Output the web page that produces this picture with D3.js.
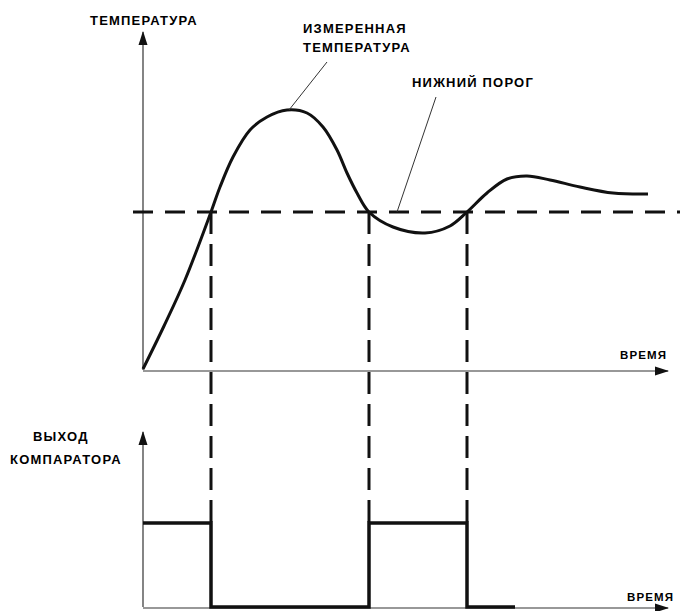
<!DOCTYPE html>
<html>
<head>
<meta charset="utf-8">
<script src="https://cdn.jsdelivr.net/npm/d3@7"></script>
<style>
  body { margin: 0; background: #fff; }
  text { font-family: "Liberation Sans", Arial, sans-serif; font-weight: bold; font-size: 13px; letter-spacing: 1.2px; fill: #000; }
  text.small { font-size: 11.5px; letter-spacing: 1.1px; }
</style>
</head>
<body>
<div id="chart"></div>
<script>
// measured temperature (time, temp)
var timeVals = [0, 5.25, 10.5, 17, 19.25, 22.5, 26.75, 31, 36, 41, 45, 48.5, 51, 53.5, 56.5, 62.5, 70.5, 76.75, 81, 86, 91, 96, 101.75, 109.25, 117.5, 126.25];
var tempVals = [0.2, 8.8, 18, 31.6, 36.6, 42.6, 48, 50.6, 52, 51.4, 48.6, 44, 39.4, 35.4, 31.6, 28.6, 27.4, 28.8, 31.6, 35.4, 38.2, 38.8, 38, 36.6, 35.4, 35.2];
var threshold = 31.6;
// comparator output steps
var switchTimes = [0, 17, 56.5, 81, 93];
var switchLevels = [1, 0, 1, 0, 0];
var crossTimes = [17, 56.5, 81];

var width = 680, height = 611;

var svg = d3.select("#chart").append("svg")
    .attr("width", width)
    .attr("height", height);

var x = d3.scaleLinear().domain([0, 131.25]).range([143, 668]);
var yT = d3.scaleLinear().domain([0, 67.6]).range([370, 32]);
var yC = d3.scaleLinear().domain([0, 2.083]).range([607, 432]);

// arrow head
svg.append("defs").append("marker")
    .attr("id", "arrow")
    .attr("markerUnits", "userSpaceOnUse")
    .attr("viewBox", "0 -5 14 10")
    .attr("refX", 13).attr("refY", 0)
    .attr("markerWidth", 14).attr("markerHeight", 10)
    .attr("orient", "auto")
    .append("path")
    .attr("d", "M0,-4.5L14,0L0,4.5Z")
    .attr("fill", "#111");

function axisLine(x1, y1, x2, y2) {
    svg.append("line")
        .attr("x1", x1).attr("y1", y1)
        .attr("x2", x2).attr("y2", y2)
        .attr("stroke", "#333")
        .attr("stroke-width", 1.2)
        .attr("marker-end", "url(#arrow)");
}

// upper axes
axisLine(x(0), yT(0), x(0), yT(67.6));
axisLine(x(0), yT(0) + 1, x(131.25), yT(0) + 1);
// lower axes
axisLine(x(0), yC(0), x(0), yC(2.083));
axisLine(x(0), yC(0) + 1, x(131.25), yC(0) + 1);

// threshold dashed line
svg.append("line")
    .attr("x1", x(-2.5)).attr("x2", x(134.25))
    .attr("y1", yT(threshold)).attr("y2", yT(threshold))
    .attr("stroke", "#111")
    .attr("stroke-width", 3)
    .attr("stroke-dasharray", "20,12");

// vertical dashed drop lines
svg.selectAll(".drop")
    .data(crossTimes)
    .enter().append("line")
    .attr("class", "drop")
    .attr("x1", function(d) { return x(d); })
    .attr("x2", function(d) { return x(d); })
    .attr("y1", yT(threshold))
    .attr("y2", yC(1))
    .attr("stroke", "#111")
    .attr("stroke-width", 3)
    .attr("stroke-dasharray", "22,10");

// temperature curve
var tempData = timeVals.map(function(t, i) { return { t: t, v: tempVals[i] }; });
svg.append("path")
    .datum(tempData)
    .attr("fill", "none")
    .attr("stroke", "#111")
    .attr("stroke-width", 3)
    .attr("d", d3.line()
        .x(function(d) { return x(d.t); })
        .y(function(d) { return yT(d.v); })
        .curve(d3.curveCatmullRom));

// comparator output
var compData = switchTimes.map(function(t, i) { return { t: t, v: switchLevels[i] }; });
svg.append("path")
    .datum(compData)
    .attr("fill", "none")
    .attr("stroke", "#111")
    .attr("stroke-width", 3.5)
    .attr("d", d3.line()
        .x(function(d) { return x(d.t); })
        .y(function(d) { return yC(d.v); })
        .curve(d3.curveStepAfter));

// leader lines
svg.append("line")
    .attr("x1", 327).attr("y1", 62).attr("x2", x(36.5)).attr("y2", yT(52))
    .attr("stroke", "#333").attr("stroke-width", 1);
svg.append("line")
    .attr("x1", 436).attr("y1", 97).attr("x2", x(63.5)).attr("y2", yT(threshold))
    .attr("stroke", "#333").attr("stroke-width", 1);

// labels
function label(txt, lx, ly, cls) {
    svg.append("text").attr("x", lx).attr("y", ly).attr("class", cls || null).text(txt);
}
label("ТЕМПЕРАТУРА", 90, 25);
label("ИЗМЕРЕННАЯ", 303, 33);
label("ТЕМПЕРАТУРА", 303, 52);
label("НИЖНИЙ ПОРОГ", 412, 87);
label("ВРЕМЯ", 620, 359, "small");
label("ВЫХОД", 33, 441);
label("КОМПАРАТОРА", 10, 464);
label("ВРЕМЯ", 627, 601, "small");
</script>
</body>
</html>
